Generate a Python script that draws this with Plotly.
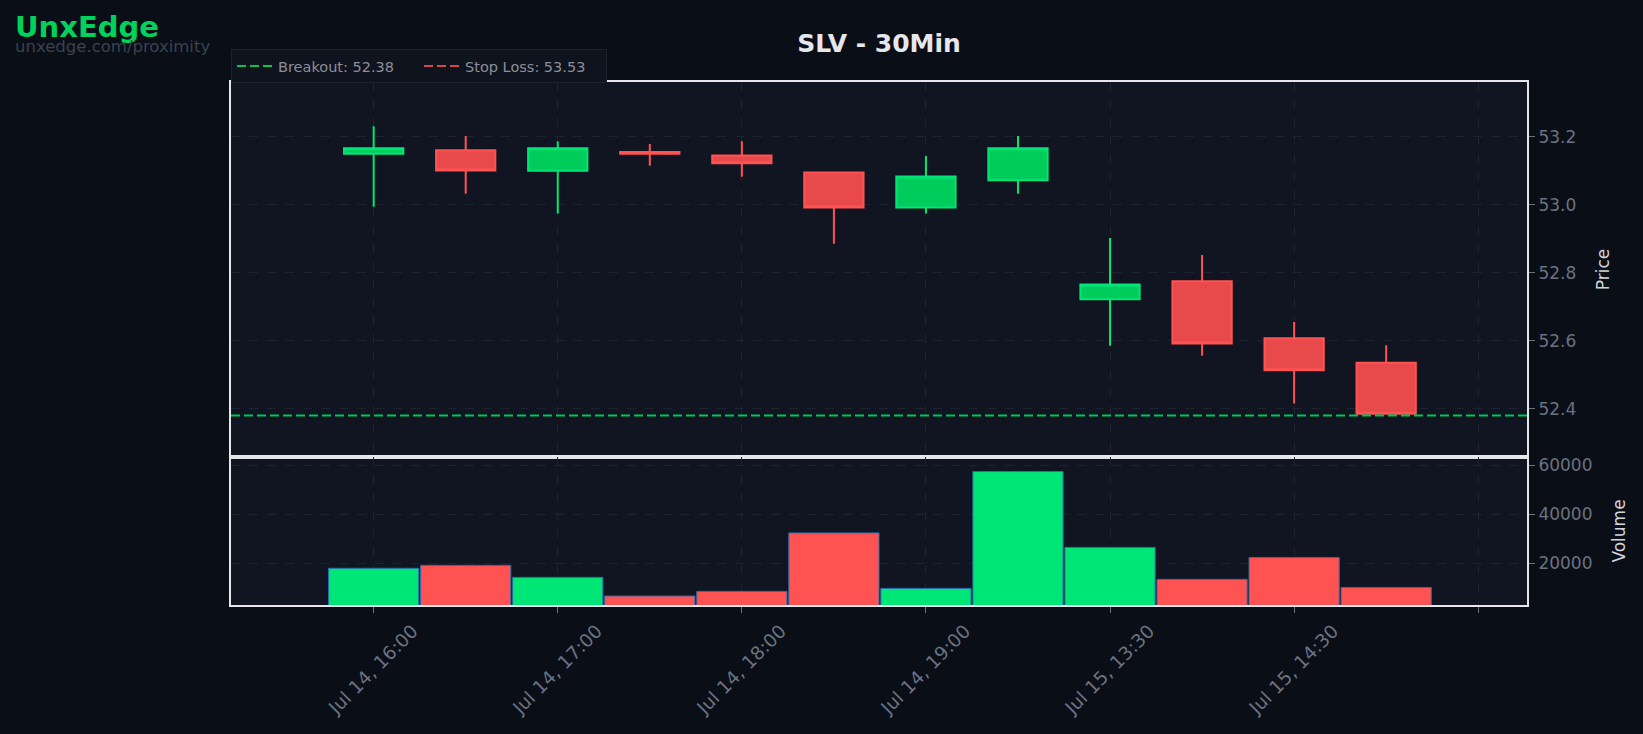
import plotly.graph_objects as go
from plotly.subplots import make_subplots

times = ["Jul 14, 16:00", "Jul 14, 16:30", "Jul 14, 17:00", "Jul 14, 17:30",
         "Jul 14, 18:00", "Jul 14, 18:30", "Jul 14, 19:00", "Jul 14, 19:30",
         "Jul 15, 13:30", "Jul 15, 14:00", "Jul 15, 14:30", "Jul 15, 15:00"]
opens = [53.150, 53.160, 53.100, 53.155, 53.145, 53.095, 52.992, 53.072, 52.722, 52.775, 52.607, 52.535]
highs = [53.231, 53.202, 53.187, 53.179, 53.187, 53.095, 53.143, 53.202, 52.902, 52.852, 52.655, 52.587]
lows = [52.994, 53.032, 52.974, 53.115, 53.082, 52.885, 52.974, 53.032, 52.585, 52.556, 52.415, 52.383]
closes = [53.166, 53.101, 53.166, 53.150, 53.122, 52.992, 53.083, 53.166, 52.765, 52.592, 52.513, 52.385]
volumes = [18000, 19200, 14300, 6700, 8600, 32400, 9800, 57400, 26500, 13500, 22400, 10200]

breakout = 52.38
stop_loss = 53.53
title = "SLV - 30Min"

GREEN = "#00e676"
RED = "#ff5252"
GRID = "#1e2331"
TICK = "#6b7280"
FONT = "DejaVu Sans"

xs = list(range(len(times)))
tickvals = xs[::2] + [len(times)]
ticktext = times[::2] + [""]

fig = make_subplots(rows=2, cols=1, shared_xaxes=True, vertical_spacing=0,
                    row_heights=[0.717, 0.283])

fig.add_trace(go.Candlestick(
    x=xs, open=opens, high=highs, low=lows, close=closes,
    increasing=dict(line=dict(color=GREEN, width=2), fillcolor="rgba(0,214,96,0.95)"),
    decreasing=dict(line=dict(color=RED, width=2), fillcolor="rgba(232,74,76,1)"),
    showlegend=False, name="SLV"), row=1, col=1)

vol_colors = [GREEN if c >= o else RED for o, c in zip(opens, closes)]
fig.add_trace(go.Bar(
    x=xs, y=volumes, marker=dict(color=vol_colors, line=dict(color="#2a6fb0", width=1)),
    width=0.98, showlegend=False, name="Volume"), row=2, col=1)

fig.add_hline(y=breakout, line=dict(color="#00c853", width=2, dash="9px,4px"),
              row=1, col=1, showlegend=True, name=f"Breakout: {breakout:.2f}")
fig.add_hline(y=stop_loss, line=dict(color="#d94848", width=2, dash="9px,4px"),
              row=1, col=1, showlegend=True, name=f"Stop Loss: {stop_loss:.2f}")

xrange = [-1.55, 12.53]
axis_common = dict(showline=True, linecolor="#e5e7eb", linewidth=2, mirror=True,
                   showgrid=True, gridcolor=GRID, griddash="dash", gridwidth=1,
                   zeroline=False, ticks="outside", ticklen=6, tickcolor=TICK,
                   tickfont=dict(color=TICK, size=17, family=FONT))

fig.update_xaxes(**axis_common, range=xrange, tickvals=tickvals, ticktext=ticktext,
                 rangeslider_visible=False)
fig.update_xaxes(showticklabels=False, ticks="", row=1, col=1)
fig.update_xaxes(tickangle=-45, ticklabelshift=39,
                 tickfont=dict(color=TICK, size=18.5, family=FONT), row=2, col=1)

fig.update_yaxes(**axis_common, side="right")
fig.update_yaxes(range=[52.258, 53.361], tickvals=[52.4, 52.6, 52.8, 53.0, 53.2],
                 tickformat=".1f",
                 title=dict(text="Price", standoff=22,
                            font=dict(color="#d1d5db", size=17, family=FONT)),
                 row=1, col=1)
fig.update_yaxes(range=[3050, 63300], tickvals=[20000, 40000, 60000],
                 tickformat="d",
                 title=dict(text="Volume", standoff=22,
                            font=dict(color="#d1d5db", size=17, family=FONT)),
                 row=2, col=1)

fig.update_layout(
    width=1643, height=734,
    paper_bgcolor="#0a0e17", plot_bgcolor="#111521",
    font=dict(family=FONT, color=TICK),
    margin=dict(l=231, r=116, t=82, b=129),
    boxgap=0.08, boxgroupgap=0.3,
    title=dict(text=f"<b>{title}</b>", x=0.5, xref="paper", y=1 - 43 / 734,
               yref="container", yanchor="middle", xanchor="center",
               font=dict(size=25, color="#e5e7eb", family=FONT)),
    legend=dict(orientation="h", x=0, xanchor="left", y=0.998, yanchor="bottom",
                bgcolor="#0f131d", bordercolor="#1c2130", borderwidth=1,
                itemwidth=36, entrywidth=136, entrywidthmode="pixels",
                font=dict(size=14.5, color="#8a8f99", family=FONT)),
    bargap=0.02,
    annotations=[
        dict(text="<b>UnxEdge</b>", x=-0.1685, y=1.105, xref="paper", yref="paper",
             xanchor="left", yanchor="middle", showarrow=False,
             font=dict(size=29, color="#00d25b", family=FONT)),
        dict(text="unxedge.com/proximity", x=-0.1685, y=1.067, xref="paper", yref="paper",
             xanchor="left", yanchor="middle", showarrow=False,
             font=dict(size=16.5, color="#3b4250", family=FONT)),
    ],
)

fig.write_html("out.html")
